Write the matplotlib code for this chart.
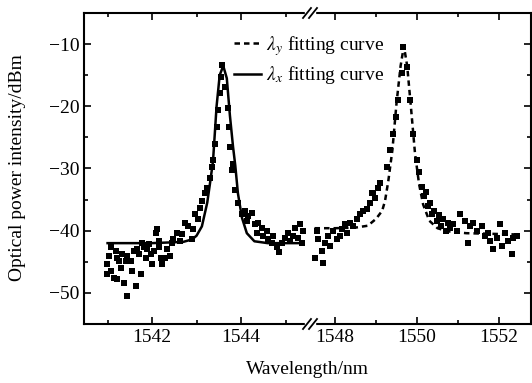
import numpy as np
import matplotlib
matplotlib.use('Agg')
import matplotlib.pyplot as plt
from matplotlib.lines import Line2D
from matplotlib.patches import Rectangle

plt.rcParams['font.family'] = 'Liberation Serif'
plt.rcParams['mathtext.fontset'] = 'stix'
plt.rcParams['font.size'] = 14

# measured spectrum (wavelength nm, power dBm)
wl = [1540.99, 1540.99, 1541.03, 1541.08, 1541.08, 1541.15, 1541.19, 1541.21, 1541.21, 1541.26,
      1541.30, 1541.33, 1541.37, 1541.42, 1541.44, 1541.44, 1541.53, 1541.55, 1541.60, 1541.64,
      1541.66, 1541.71, 1541.75, 1541.78, 1541.82, 1541.87, 1541.89, 1541.93, 1541.98, 1542.00,
      1542.04, 1542.09, 1542.11, 1542.16, 1542.16, 1542.20, 1542.22, 1542.29, 1542.34, 1542.40,
      1542.45, 1542.47, 1542.56, 1542.63, 1542.67, 1542.74, 1542.81, 1542.90, 1542.92, 1542.97,
      1543.03, 1543.08, 1543.12, 1543.19, 1543.24, 1543.30, 1543.35, 1543.37, 1543.42, 1543.46,
      1543.49, 1543.53, 1543.55, 1543.57, 1543.64, 1543.71, 1543.73, 1543.75, 1543.80, 1543.82,
      1543.87, 1543.93, 1544.02, 1544.09, 1544.13, 1544.16, 1544.25, 1544.31, 1544.36, 1544.38,
      1544.47, 1544.49, 1544.58, 1544.61, 1544.70, 1544.72, 1544.81, 1544.85, 1544.92, 1544.99,
      1545.06, 1545.10, 1545.17, 1545.21, 1545.28, 1545.33, 1545.37, 1545.39,
      1547.51, 1547.56, 1547.59, 1547.68, 1547.71, 1547.76, 1547.83, 1547.88, 1547.95, 1548.05,
      1548.12, 1548.17, 1548.24, 1548.29, 1548.37, 1548.44, 1548.54, 1548.61, 1548.68, 1548.78,
      1548.85, 1548.90, 1548.93, 1548.98, 1549.05, 1549.10, 1549.27, 1549.34, 1549.41, 1549.49,
      1549.54, 1549.63, 1549.66, 1549.76, 1549.83, 1549.90, 1550.00, 1550.05, 1550.12, 1550.17,
      1550.22, 1550.27, 1550.32, 1550.37, 1550.42, 1550.48, 1550.53, 1550.58, 1550.63, 1550.70,
      1550.75, 1550.80, 1550.88, 1550.98, 1551.05, 1551.17, 1551.24, 1551.29, 1551.37, 1551.46,
      1551.59, 1551.66, 1551.73, 1551.78, 1551.85, 1551.95, 1552.02, 1552.07, 1552.15, 1552.22,
      1552.32, 1552.34, 1552.44]
power = [-45.3, -46.9, -44.0, -46.5, -42.7, -47.6, -43.2, -44.4, -47.7, -44.8,
         -46.0, -43.7, -48.4, -44.8, -50.5, -44.0, -44.8, -46.5, -43.2, -48.9,
         -42.9, -43.7, -46.9, -41.9, -42.7, -44.4, -42.9, -42.1, -43.7, -45.3,
         -43.2, -40.3, -39.7, -41.6, -42.7, -44.4, -45.3, -44.4, -42.9, -44.0,
         -41.9, -41.3, -40.3, -41.6, -40.5, -38.7, -39.2, -41.3, -39.7, -37.3,
         -38.1, -36.3, -35.2, -34.0, -33.1, -31.5, -29.8, -28.7, -26.0, -23.4,
         -20.6, -17.9, -15.3, -13.4, -16.9, -20.2, -23.4, -26.6, -30.3, -29.2,
         -33.5, -35.6, -37.3, -36.8, -38.4, -37.6, -37.1, -38.9, -40.3, -38.7,
         -39.5, -40.8, -40.0, -41.3, -41.9, -40.8, -42.7, -43.5, -41.9, -41.1,
         -40.3, -41.6, -40.8, -39.5, -41.1, -38.9, -41.9, -40.0,
         -44.4, -40.0, -41.3, -43.2, -45.2, -41.9, -40.8, -42.4, -40.0, -41.3,
         -40.8, -39.7, -38.9, -40.3, -38.7, -39.2, -38.1, -37.3, -36.8, -36.5,
         -35.6, -34.0, -34.0, -34.7, -33.1, -32.4, -29.8, -27.0, -24.4, -21.8,
         -19.0, -14.7, -10.5, -13.7, -19.0, -24.4, -28.7, -30.5, -33.0, -34.5,
         -33.8, -36.0, -35.5, -37.3, -36.8, -38.4, -37.5, -39.2, -38.1, -40.0,
         -38.7, -39.5, -38.9, -40.0, -37.3, -38.4, -42.0, -39.2, -38.7, -40.0,
         -39.2, -40.8, -40.3, -41.6, -42.9, -41.1, -38.9, -42.4, -40.3, -41.6,
         -43.7, -41.1, -40.8]

# lambda_x fitting curve (left peak)
fit_x_wl = [1541.0, 1542.0, 1542.7, 1542.9, 1543.0, 1543.12, 1543.24, 1543.3, 1543.37, 1543.45,
            1543.52, 1543.6, 1543.68, 1543.75, 1543.82, 1543.87, 1543.93, 1544.02, 1544.13, 1544.3,
            1544.6, 1545.4]
fit_x_p = [-42.0, -42.0, -41.8, -41.4, -40.8, -39.3, -35.5, -32.5, -28.8, -20.0,
           -15.0, -13.5, -15.5, -21.5, -26.5, -29.5, -34.0, -37.9, -40.4, -41.7,
           -42.0, -42.0]

# lambda_y fitting curve (right peak)
fit_y_wl = [1547.5, 1548.0, 1548.5, 1548.8, 1549.0, 1549.15, 1549.22, 1549.3, 1549.4, 1549.5,
            1549.6, 1549.68, 1549.76, 1549.85, 1549.95, 1550.05, 1550.15, 1550.3, 1550.5, 1550.75,
            1551.2, 1552.4]
fit_y_p = [-39.6, -39.6, -39.5, -39.2, -38.1, -36.8, -35.2, -32.0, -27.0, -19.5,
           -13.5, -10.3, -13.5, -20.0, -27.5, -32.5, -35.8, -38.4, -39.6, -40.1,
           -40.4, -40.6]

W, H = 532, 383
fig = plt.figure(figsize=(W / 100, H / 100), dpi=100)
x0, xb, x1 = 84, 310, 531
yb, yt = 324, 13
ax1 = fig.add_axes([x0 / W, 1 - yb / H, (xb - x0) / W, (yb - yt) / H])
ax2 = fig.add_axes([xb / W, 1 - yb / H, (x1 - xb) / W, (yb - yt) / H], sharey=ax1)
ax2.patch.set_alpha(0)

for ax in (ax1, ax2):
    ax.plot(wl, power, 's', color='black', ms=4.2, mew=0)
    ax.set_ylim(-55, -5)
    ax.tick_params(direction='in', which='both', width=1.2, labelsize=14)
    ax.tick_params(which='major', length=5)
    ax.tick_params(which='minor', length=3)
    for s in ax.spines.values():
        s.set_linewidth(1.5)

ax1.plot(fit_x_wl, fit_x_p, '-', color='black', lw=1.8)
ax2.plot(fit_y_wl, fit_y_p, '--', color='black', lw=1.8, dashes=(2.2, 1.6))

ax1.set_xlim(1540.47, 1545.55)
ax1.set_xticks([1542, 1544])
ax1.set_xticks([1541, 1543, 1545], minor=True)
ax1.set_yticks([-50, -40, -30, -20, -10])
ax1.set_yticks([-55, -45, -35, -25, -15, -5], minor=True)
ax1.spines['right'].set_visible(False)
ax1.tick_params(top=True, right=False, which='both')

ax2.set_xlim(1547.39, 1552.78)
ax2.set_xticks([1548, 1550, 1552])
ax2.set_xticks([1549, 1551], minor=True)
ax2.spines['left'].set_visible(False)
ax2.tick_params(top=True, left=False, right=True, labelleft=False, which='both')

# break marks on top and bottom spines
for py in (yb, yt):
    fig.add_artist(Rectangle(((xb - 5) / W, 1 - (py + 3) / H), 10 / W, 6 / H,
                             transform=fig.transFigure, color='white', zorder=10))
    for dx in (-3, 3):
        fig.add_artist(Line2D([(xb + dx - 4) / W, (xb + dx + 4) / W],
                              [1 - (py + 5) / H, 1 - (py - 5) / H],
                              transform=fig.transFigure, color='black', lw=1.3, zorder=11))

fig.text((x0 + x1) / 2 / W, 1 - 370 / H, 'Wavelength/nm', ha='center', va='center', fontsize=14)
fig.text(18 / W, 1 - 168 / H, 'Optical power intensity/dBm', rotation=90,
         ha='center', va='center', fontsize=14)

handles = [Line2D([], [], ls='--', color='black', lw=1.8, dashes=(2.2, 1.6)),
           Line2D([], [], ls='-', color='black', lw=1.8)]
labels = [r'$\lambda_y$ fitting curve', r'$\lambda_x$ fitting curve']
fig.legend(handles, labels, loc='upper left', bbox_to_anchor=(224 / W, 1 - 24 / H),
           frameon=False, fontsize=14, handlelength=1.4, handletextpad=0.25,
           labelspacing=0.35, borderpad=0)

fig.savefig('out.png', dpi=100)
